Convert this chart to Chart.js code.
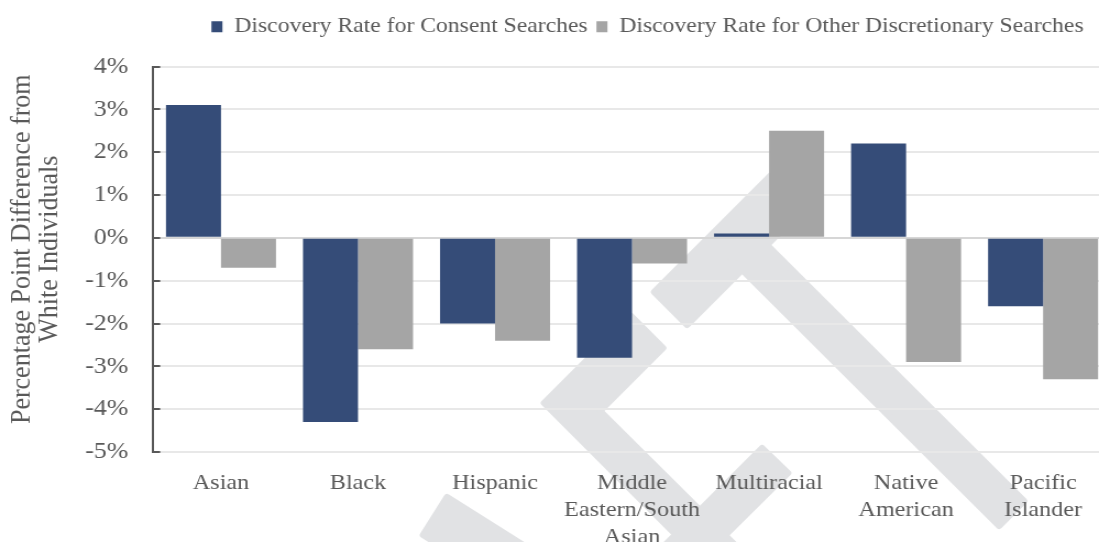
<!DOCTYPE html>
<html>
<head>
<meta charset="utf-8">
<title>Discovery rate difference</title>
<script src="https://cdn.jsdelivr.net/npm/chart.js@4/dist/chart.umd.min.js"></script>
<style>
  html, body { margin: 0; padding: 0; background: #fff; overflow: hidden; }
  /* the source picture is stretched a little sideways, so the canvas is too */
  #chart { display: block; width: 1099px !important; height: 542px !important; }
</style>
</head>
<body>
<canvas id="chart" width="999" height="542"></canvas>
<script>
// ---------- data ----------
const categories = [["Asian"], ["Black"], ["Hispanic"], ["Middle", "Eastern/South", "Asian"], ["Multiracial"], ["Native", "American"], ["Pacific", "Islander"]];
const consentRates = [3.1, -4.3, -2.0, -2.8, 0.1, 2.2, -1.6];
const otherRates = [-0.7, -2.6, -2.4, -0.6, 2.5, -2.9, -3.3];
const yTicks = [4, 3, 2, 1, 0, -1, -2, -3, -4, -5];
const seriesNames = ["Discovery Rate for Consent Searches", "Discovery Rate for Other Discretionary Searches"];
const yTitle = ["Percentage Point Difference from", "White Individuals"];

const SERIF = "'Liberation Serif', 'Times New Roman', serif";
const TEXT = "#595959";
const SX = 1.1; // horizontal stretch of the page vs the canvas

Chart.defaults.font.family = SERIF;
Chart.defaults.color = TEXT;

// light gray logo behind the plot (page pixels)
const watermark = {
  id: "watermark",
  beforeDraw(chart) {
    const ctx = chart.ctx;
    const shapes = [
      [[654, 292], [783, 163], [816, 196], [687, 325]],
      [[756, 234], [1024, 501], [999, 526], [731, 259]],
      [[631, 316], [544, 403], [715, 574], [740, 550], [600, 411], [663, 348]],
      [[762, 448], [655, 555], [680, 580], [788, 473]],
      [[447, 497], [574, 577], [550, 615], [423, 535]]
    ];
    ctx.save();
    ctx.fillStyle = "#e1e2e4";
    ctx.strokeStyle = "#e1e2e4";
    ctx.lineWidth = 6;
    ctx.lineJoin = "round";
    shapes.forEach(pts => {
      ctx.beginPath();
      pts.forEach((p, i) => (i ? ctx.lineTo(p[0] / SX, p[1]) : ctx.moveTo(p[0] / SX, p[1])));
      ctx.closePath();
      ctx.fill();
      ctx.stroke();
    });
    ctx.restore();
  }
};

// short tick marks pointing into the plot
const innerTicks = {
  id: "innerTicks",
  afterDatasetsDraw(chart) {
    const ctx = chart.ctx;
    const y = chart.scales.y;
    const left = chart.chartArea.left;
    ctx.save();
    ctx.strokeStyle = TEXT;
    ctx.lineWidth = 2;
    yTicks.forEach(t => {
      const py = Math.round(y.getPixelForValue(t));
      ctx.beginPath();
      ctx.moveTo(left, py);
      ctx.lineTo(left + 7, py);
      ctx.stroke();
    });
    ctx.restore();
  }
};

// legend: more room below it, nudged; y title nudged up
const nudges = {
  id: "nudges",
  beforeInit(chart) {
    const legend = chart.legend;
    const fit = legend.fit;
    legend.fit = function () {
      fit.call(this);
      this.height += 22;
    };
    const draw = legend.draw;
    legend.draw = function () {
      this.ctx.save();
      this.ctx.translate(-6, 3);
      draw.call(this);
      this.ctx.restore();
    };
  },
  afterLayout(chart) {
    const s = chart.scales.y;
    if (s._nudged) return;
    const drawTitle = s.drawTitle;
    s.drawTitle = function () {
      this.ctx.save();
      this.ctx.translate(0, -10);
      drawTitle.call(this);
      this.ctx.restore();
    };
    s._nudged = true;
  }
};

new Chart(document.getElementById("chart"), {
  type: "bar",
  data: {
    datasets: [
      {
        label: seriesNames[0],
        data: consentRates.map((v, i) => ({ x: i, y: v })),
        backgroundColor: "#354C78"
      },
      {
        label: seriesNames[1],
        data: otherRates.map((v, i) => ({ x: i, y: v })),
        backgroundColor: "#A5A5A5"
      }
    ]
  },
  options: {
    responsive: false,
    devicePixelRatio: 1,
    animation: false,
    layout: { padding: { top: 5, right: 0, bottom: 0, left: 0 } },
    datasets: { bar: { barPercentage: 1, categoryPercentage: 0.803 } },
    plugins: {
      legend: {
        position: "top",
        align: "end",
        labels: {
          font: { size: 21.5, family: SERIF },
          color: TEXT,
          boxWidth: 10,
          boxHeight: 11,
          padding: 8
        }
      },
      tooltip: { enabled: false }
    },
    scales: {
      x: {
        type: "linear",
        offset: false,
        min: -0.5,
        max: 6.408,
        grid: { display: false },
        border: { display: false },
        afterBuildTicks: s => { s.ticks = categories.map((c, i) => ({ value: i })); },
        afterFit: s => { s.height = 90; },
        ticks: {
          autoSkip: false,
          maxRotation: 0,
          padding: 10,
          font: { size: 22, family: SERIF, lineHeight: 1.23 },
          color: TEXT,
          callback: v => categories[v]
        }
      },
      y: {
        min: -5,
        max: 4,
        afterBuildTicks: s => { s.ticks = yTicks.map(v => ({ value: v })); },
        afterFit: s => { s.width = 138.6; },
        grid: {
          drawTicks: false,
          lineWidth: 2,
          color: c => (c.tick && c.tick.value === 0 ? "#d6d6d6" : "#e8e8e8")
        },
        border: { display: true, color: TEXT, width: 2 },
        ticks: {
          padding: 22,
          font: { size: 23.5, family: SERIF },
          color: TEXT,
          callback: v => v + "%"
        },
        title: {
          display: true,
          text: yTitle,
          color: TEXT,
          font: { size: 26, family: SERIF, lineHeight: 0.98 },
          padding: { top: 7, bottom: 0 }
        }
      }
    }
  },
  plugins: [watermark, innerTicks, nudges]
});
</script>
</body>
</html>
